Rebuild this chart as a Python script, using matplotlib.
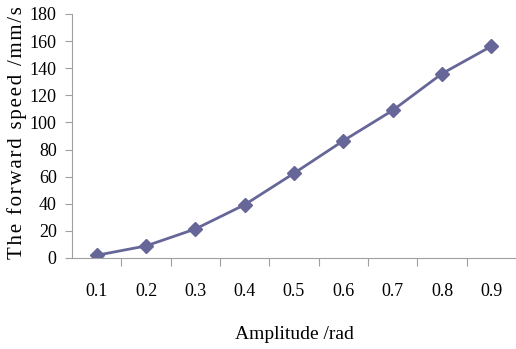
import matplotlib.pyplot as plt

# data
amplitude = ['0.1', '0.2', '0.3', '0.4', '0.5', '0.6', '0.7', '0.8', '0.9']
speed = [2.0, 8.9, 21.4, 39.3, 62.5, 86.5, 108.9, 136.0, 156.2]
yticks = [0, 20, 40, 60, 80, 100, 120, 140, 160, 180]

plt.rcParams['font.family'] = ['Liberation Serif', 'DejaVu Serif']

fig = plt.figure(figsize=(5.16, 3.49), dpi=100)
ax = fig.add_axes([72 / 516, 1 - 258 / 349, 1 - 72 / 516, (258 - 14) / 349])

xs = list(range(1, len(amplitude) + 1))
ax.plot(xs, speed, '-', color='#666699', linewidth=2,
        marker='D', markersize=7, markerfacecolor='#666699', markeredgecolor='#666699')

ax.set_xlim(0.5, len(amplitude) + 0.5)
ax.set_ylim(0, 180)
ax.set_yticks(yticks)
# category axis: ticks between categories, labels at centres
ax.set_xticks([x + 0.5 for x in xs[:-1]])
ax.set_xticklabels([])
ax.set_xticks(xs, minor=True)
ax.set_xticklabels(amplitude, minor=True)
ax.tick_params(axis='x', which='major', length=6, color='#a0a0a0', direction='out')
ax.tick_params(axis='x', which='minor', length=0, pad=18, labelsize=13)
ax.tick_params(axis='y', length=5, color='#a0a0a0', pad=6, labelsize=13)

for s in ['top', 'right']:
    ax.spines[s].set_visible(False)
for s in ['left', 'bottom']:
    ax.spines[s].set_color('#a0a0a0')

ax.set_xlabel('Amplitude /rad', fontsize=14, labelpad=19)

# letter-spaced y label, like the original
ylab = 'The forward speed /mm/s'
spaced = '\u200a'.join(ylab)
fig.text(17 / 516, 1 - 133 / 349, spaced, rotation=90, fontsize=15,
         ha='center', va='center')

fig.savefig('out.png', dpi=100)
